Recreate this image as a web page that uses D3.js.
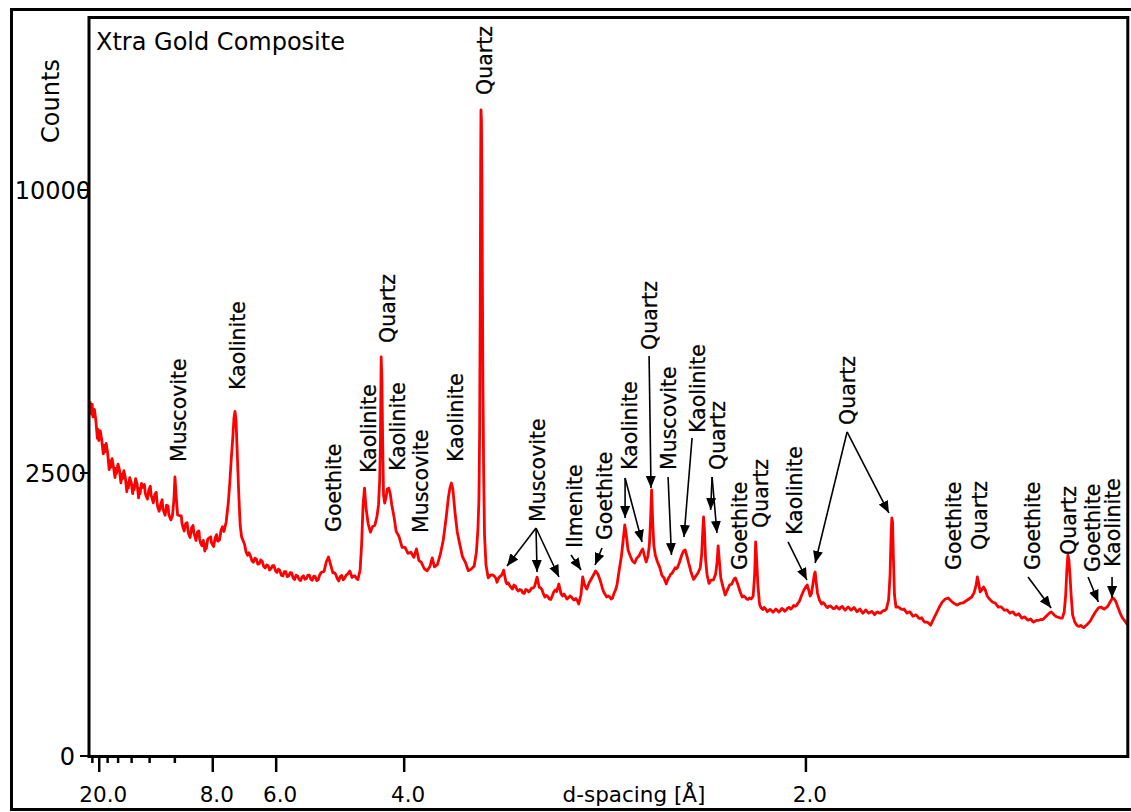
<!DOCTYPE html>
<html><head><meta charset="utf-8">
<script src="https://cdn.jsdelivr.net/npm/d3@7"></script>
<style>
body{margin:0;background:#fff;}
text{font-family:"DejaVu Sans", Verdana, sans-serif;fill:#000;}
</style></head><body>
<svg id="chart" width="1131" height="812"></svg>
<script>
// ---- data ----
const chartTitle = "Xtra Gold Composite";
const yAxisTitle = "Counts";
const xAxisTitle = "d-spacing [Å]";
const wavelength = 1.78897;            // Co K-alpha, Å
const twoThetaDomain = [4.5, 75];
const countsDomain = [0, 17000];
const yTickValues = [0, 2500, 10000];
const dMajorTicks = [20, 8, 6, 4, 2];
const dMinorTicks = [22, 18, 16, 14, 12, 10];

// [2theta (deg), counts] main readings
const pattern = [
[4.5,3927],[4.7,3588],[4.9,3509],[5.1,3107],[5.3,3112],[5.5,2886],[5.7,2863],[5.9,2599],[6.1,2598],[6.3,2490],[6.5,2555],[6.7,2394],[6.9,2414],[7.1,2238],[7.3,2338],[7.5,2213],[7.7,2306],[7.9,2146],[8.1,2252],[8.3,2119],[8.5,2214],[8.7,2092],[8.9,2134],[9.1,1933],[9.3,1977],[9.5,1875],[9.7,1964],[9.9,1792],
[10.1,1800],[10.2,2046],[10.27,2430],[10.35,2126],[10.45,1813],
[10.6,1802],[10.8,1646],[11.0,1687],[11.2,1539],[11.4,1622],[11.6,1524],[11.8,1567],[12.0,1421],[12.2,1450],[12.4,1343],[12.6,1486],[12.8,1402],[13.0,1484],[13.2,1441],[13.4,1587],[13.6,1573],
[13.75,1709],[13.9,2014],[14.0,2343],[14.1,2772],[14.2,3157],[14.28,3566],[14.35,3705],[14.42,3524],[14.5,2885],[14.6,2176],[14.7,1666],[14.8,1497],
[15.0,1399],[15.2,1258],[15.4,1248],[15.6,1171],[15.8,1211],[16.0,1155],[16.2,1183],[16.4,1103],[16.6,1131],[16.8,1095],[17.0,1132],[17.2,1052],[17.4,1073],[17.6,1013],[17.8,1062],[18.0,1011],[18.2,1047],[18.4,972],[18.6,1012],[18.8,960],[19.0,1013],[19.2,981],[19.4,1021],[19.6,964],[19.8,1004],[20.0,969],[20.2,1051],[20.4,1064],[20.55,1175],[20.7,1236],[20.85,1139],[21.0,1047],[21.2,1027],[21.4,957],[21.6,1017],[21.8,988],[22.0,1033],[22.15,1068],[22.3,995],[22.5,1012],[22.7,971],
[22.85,1080],[22.95,1390],[23.05,1968],[23.15,2240],[23.25,1920],[23.4,1680],[23.55,1564],[23.7,1643],[23.85,1660],[24.0,1798],[24.1,1968],[24.18,2378],[24.23,3117],[24.28,4969],[24.33,4413],[24.38,3117],[24.44,2126],[24.52,1998],[24.6,2078],[24.7,2225],[24.8,2240],[24.9,2143],[25.0,1968],[25.15,1788],[25.3,1574],[25.5,1500],[25.7,1360],[25.9,1358],[26.1,1282],[26.3,1296],[26.5,1231],[26.68,1338],[26.85,1191],[27.0,1173],[27.2,1097],[27.4,1070],[27.6,1125],[27.75,1224],[27.9,1117],[28.1,1143],[28.3,1271],[28.5,1456],[28.7,1783],[28.85,2094],[28.95,2240],[29.05,2326],[29.15,2225],[29.3,1842],[29.45,1566],[29.6,1416],[29.8,1241],[30.0,1171],[30.2,1072],[30.4,1090],[30.6,1127],[30.75,1299],[30.85,1594],[30.92,2046],[30.97,3317],[31.01,6491],[31.04,11088],[31.06,13026],[31.09,12627],[31.12,10719],[31.15,7679],[31.19,4413],[31.24,2553],[31.3,1525],[31.4,1139],
[31.55,991],[31.7,1020],[31.85,1024],[32.0,1004],[32.15,942],[32.3,999],[32.45,1018],[32.6,1078],[32.75,947],[32.9,938],[33.1,888],[33.3,912],[33.5,866],[33.7,865],[33.9,830],[34.1,865],[34.3,840],[34.5,880],[34.7,898],[34.87,999],[35.02,887],[35.2,865],[35.4,789],[35.6,794],[35.8,764],[36.0,839],[36.2,845],[36.35,923],[36.5,820],[36.7,819],[36.9,769],[37.1,799],[37.3,769],[37.5,775],[37.7,721],[37.85,809],[37.97,1000],[38.1,913],[38.25,871],[38.4,934],[38.55,978],[38.7,1023],[38.85,1068],[39.0,1034],[39.15,967],[39.3,881],[39.5,814],[39.7,799],[39.9,769],[40.1,829],[40.3,913],[40.45,1080],[40.6,1248],[40.72,1456],[40.83,1666],[40.93,1525],[41.05,1325],[41.2,1248],[41.35,1187],[41.5,1163],[41.65,1224],[41.8,1248],[41.95,1312],[42.05,1338],[42.15,1261],[42.28,1175],[42.4,1248],[42.5,1390],[42.58,1739],[42.65,2209],[42.72,1739],[42.8,1390],[42.9,1261],[43.05,1175],[43.2,1113],[43.35,1019],[43.5,988],[43.65,925],[43.8,988],[43.95,1034],[44.1,1058],[44.25,1107],[44.4,1105],[44.55,1175],[44.7,1261],[44.82,1312],[44.93,1325],[45.05,1248],[45.2,1139],[45.35,1045],[45.5,974],[45.65,1010],[45.8,1045],[45.95,1103],[46.05,1261],[46.13,1594],[46.18,1783],[46.24,1594],[46.32,1199],[46.42,1023],[46.55,930],[46.7,966],[46.85,968],[47.0,1034],[47.1,1175],[47.17,1377],[47.25,1199],[47.35,989],[47.5,892],[47.65,809],[47.8,860],[47.95,913],[48.1,924],[48.25,978],[48.35,989],[48.5,923],[48.65,850],[48.8,789],[49.0,789],[49.2,764],[49.4,770],[49.55,799],[49.65,1023],[49.72,1430],[49.79,1199],[49.87,913],[49.97,741],[50.1,683],[50.3,689],[50.5,650],[50.7,671],[50.9,645],[51.1,675],[51.3,646],[51.5,680],[51.7,654],[51.9,684],[52.1,674],[52.3,708],[52.5,707],[52.7,750],[52.85,809],[53.0,860],[53.12,892],[53.22,913],[53.32,860],[53.42,799],[53.52,829],[53.62,934],[53.7,1023],[53.76,1057],[53.83,945],[53.92,829],[54.05,760],[54.2,721],[54.4,722],[54.6,687],[54.8,703],[55.0,678],[55.2,699],[55.4,674],[55.6,699],[55.8,664],[56.0,694],[56.2,664],[56.4,689],[56.6,650],[56.8,675],[57.0,636],[57.2,666],[57.4,637],[57.6,653],[57.8,623],[58.0,648],[58.2,637],[58.4,661],[58.6,674],[58.75,760],[58.85,1023],[58.92,1525],[58.97,1768],[59.02,1710],[59.08,1199],[59.15,809],[59.25,693],[59.4,694],[59.6,674],[59.8,675],[60.0,637],[60.2,648],[60.4,611],[60.6,622],[60.8,593],[61.0,596],[61.2,559],[61.4,557],[61.6,534],[61.8,586],[62.0,638],[62.2,693],[62.4,741],[62.6,769],[62.8,779],[63.0,750],[63.2,726],[63.4,712],[63.6,726],[63.8,731],[64.0,750],[64.2,769],[64.4,789],[64.55,829],[64.7,913],[64.78,1000],[64.87,934],[64.97,840],[65.08,860],[65.2,892],[65.32,860],[65.45,799],[65.6,769],[65.8,741],[66.0,731],[66.2,692],[66.4,694],[66.6,664],[66.8,666],[67.0,637],[67.2,648],[67.4,619],[67.6,631],[67.8,593],[68.0,604],[68.2,576],[68.4,587],[68.6,559],[68.8,574],[69.0,577],[69.2,581],[69.4,603],[69.6,629],[69.8,647],[70.0,621],[70.2,603],[70.4,594],[70.55,594],[70.68,647],[70.78,809],[70.86,1080],[70.93,1261],[71.0,1199],[71.07,1023],[71.15,809],[71.25,621],[71.4,560],[71.6,526],[71.8,532],[72.0,514],[72.2,536],[72.4,560],[72.6,603],[72.8,647],[73.0,684],[73.2,693],[73.4,674],[73.6,693],[73.8,741],[74.0,779],[74.2,741],[74.4,665],[74.6,603],[74.8,569],[75.0,536]
];

// [2theta (deg), counts] extra readings of the noisy background between the main ones
const patternExtra = [
[4.6,3650],[4.65,3860],[4.8,3750],[5.0,3150],[5.05,3330],[5.2,3300],[5.4,2850],[5.45,3010],[5.6,3050],[5.8,2560],[5.85,2720],[6.0,2760],[6.2,2420],[6.25,2580],[6.4,2660],[6.6,2330],[6.65,2480],[6.8,2540],[7.0,2180],[7.05,2330],[7.2,2420],[7.4,2150],[7.45,2290],[7.6,2400],[7.8,2080],[7.85,2230],[8.0,2320],[8.2,2300],[8.25,2160],[8.4,2060],[8.6,2270],[8.65,2120],[8.8,2000],[9.0,2170],[9.05,2020],[9.2,1870],[9.4,2050],[9.45,1900],[9.6,1810],[9.8,1950],[9.85,1830],[10.0,1740],
[10.7,1800],[10.75,1690],[10.9,1580],[11.1,1700],[11.15,1590],[11.3,1490],[11.5,1660],[11.55,1560],[11.7,1450],[11.9,1580],[11.95,1470],[12.1,1380],[12.3,1310],[12.35,1400],[12.5,1470],[12.7,1500],[12.75,1420],[12.9,1370],[13.1,1530],[13.15,1450],[13.3,1460],[13.5,1640],
[15.1,1300],[15.3,1290],[15.5,1190],[15.7,1220],[15.9,1150],[16.1,1200],[16.3,1120],[16.5,1140],[16.7,1080],[16.9,1130],[17.1,1070],[17.3,1090],[17.5,1020],[17.7,1060],[17.9,1005],[18.1,1050],[18.3,990],[18.5,1020],[18.7,975],[18.9,1000],[19.1,975],[19.3,1020],[19.5,975],[19.7,1010],[19.9,960],[20.1,1020],
[21.1,1050],[21.3,980],[21.5,1005],[21.7,970],[21.9,1020],[22.4,1010],[22.6,985],
[32.07,985],[32.22,975],[32.52,1040],[32.82,925],[33.0,910],[33.2,870],[33.4,900],[33.6,850],[33.8,860],[34.0,825],[34.2,860],[34.4,855],[34.6,880],[35.1,885],[35.3,820],[35.5,805],[35.7,770],[35.9,800],[36.1,860],[36.6,800],[36.8,795],[37.0,780],[37.2,790],[37.4,760],[37.6,755],
[39.4,840],[39.6,790],[39.8,790],[40.0,780],[40.2,860],
[43.43,1000],[43.58,950],[43.72,960],[43.88,1010],[44.03,1040],[44.18,1085],[44.33,1095],[44.48,1140],
[48.9,800],[49.1,770],[49.3,780],[49.48,780],
[50.0,710],[50.2,670],[50.4,675],[50.6,660],[50.8,660],[51.0,660],[51.2,660],[51.4,660],[51.6,670],[51.8,665],[52.0,690],[52.2,685],[52.4,700],[52.6,730],
[54.3,735],[54.5,700],[54.7,700],[54.9,690],[55.1,680],[55.3,685],[55.5,690],[55.7,680],[55.9,680],[56.1,680],[56.3,675],[56.5,670],[56.7,660],[56.9,655],[57.1,650],[57.3,650],[57.5,645],[57.7,640],[57.9,640],[58.1,640],[58.3,650],[58.5,660],
[59.5,685],[59.7,670],[59.9,655],[60.1,645],[60.3,630],[60.5,615],[60.7,610],[60.9,590],[61.1,575],[61.3,560],[61.5,548],[61.7,560],
[65.7,755],[65.9,735],[66.1,710],[66.3,695],[66.5,680],[66.7,665],[66.9,650],[67.1,645],[67.3,630],[67.5,625],[67.7,610],[67.9,600],[68.1,590],[68.3,580],[68.5,570],[68.7,568],[68.9,575],[69.1,582],[69.3,590],[69.5,615],[69.7,640],[69.9,635],[70.1,610],[70.3,600],
[71.5,540],[71.7,525],[71.9,522],[72.1,525],[72.3,548],[72.5,580],[72.7,625],[72.9,665],[73.1,690],[73.3,680],[73.5,685],[73.7,715],[73.9,765],[74.1,765],[74.3,700],[74.5,630],[74.7,585],[74.9,550]
];

// phase labels: "at" = [2theta, counts] of the label's lower end; arrows from "from" to each "to"
const annotations = [
 {label:"Muscovite", at:[10.48, 2698]},
 {label:"Kaolinite", at:[14.55, 4181]},
 {label:"Goethite", at:[21.01, 1566]},
 {label:"Kaolinite", at:[23.45, 2500]},
 {label:"Quartz", at:[24.68, 5324]},
 {label:"Kaolinite", at:[25.42, 2535]},
 {label:"Muscovite", at:[26.92, 1552]},
 {label:"Kaolinite", at:[29.30, 2698]},
 {label:"Quartz", at:[31.33, 13638]},
 {label:"Muscovite", at:[34.87, 1709], from:[34.80, 1623], to:[[32.83, 1127], [34.87, 1057], [36.36, 1000]]},
 {label:"Ilmenite", at:[37.38, 1350], from:[37.18, 1261], to:[[37.86, 1080]]},
 {label:"Goethite", at:[39.42, 1456], from:[39.28, 1350], to:[[38.81, 1139]]},
 {label:"Kaolinite", at:[41.12, 2553], from:[40.85, 2412], to:[[40.85, 1768], [42.0, 1430]]},
 {label:"Quartz", at:[42.48, 5145], from:[42.48, 4994], to:[[42.61, 2242]]},
 {label:"Muscovite", at:[43.83, 2553], from:[43.77, 2430], to:[[44.0, 1261]]},
 {label:"Kaolinite", at:[45.74, 3257], from:[45.40, 3157], to:[[44.85, 1497]]},
 {label:"Quartz", at:[47.1, 2553], from:[46.76, 2430], to:[[46.66, 1889], [47.09, 1552]]},
 {label:"Goethite", at:[48.6, 1080]},
 {label:"Quartz", at:[50.08, 1623]},
 {label:"Kaolinite", at:[52.33, 1525], from:[51.92, 1430], to:[[53.2, 967]]},
 {label:"Quartz", at:[55.99, 3420], from:[55.93, 3277], to:[[53.76, 1163], [58.77, 1843]]},
 {label:"Goethite", at:[63.13, 1080]},
 {label:"Quartz", at:[64.9, 1325]},
 {label:"Goethite", at:[68.5, 1080], from:[68.22, 1000], to:[[69.79, 684]]},
 {label:"Quartz", at:[70.94, 1261]},
 {label:"Goethite", at:[72.6, 1057], from:[72.30, 1000], to:[[73.0, 740]]},
 {label:"Kaolinite", at:[73.93, 1115], from:[73.93, 1000], to:[[73.93, 779]]}
];

// ---- drawing ----
const svg = d3.select("#chart");
const x = d3.scaleLinear().domain(twoThetaDomain).range([90, 1127.8]);
const y = d3.scaleSqrt().domain(countsDomain).range([756, 18]);
const dToTwoTheta = d => 2 * Math.asin(wavelength / (2 * d)) * 180 / Math.PI;

// outer frame
svg.append("rect").attr("x", 11.5).attr("y", 9.5).attr("width", 1130).attr("height", 800)
  .attr("fill", "none").attr("stroke", "#000").attr("stroke-width", 3);

// arrow marker
svg.append("defs").append("marker").attr("id", "ah")
  .attr("markerUnits", "userSpaceOnUse").attr("viewBox", "0 0 12 10")
  .attr("refX", 12).attr("refY", 5).attr("markerWidth", 12).attr("markerHeight", 10)
  .attr("orient", "auto")
  .append("path").attr("d", "M0,0 L12,5 L0,10 Z").attr("fill", "#000");

// pattern line
const allPoints = pattern.concat(patternExtra).sort((a, b) => a[0] - b[0]);
const line = d3.line().x(d => x(d[0])).y(d => y(d[1]));
svg.append("path").datum(allPoints).attr("d", line)
  .attr("fill", "none").attr("stroke", "#ff0000").attr("stroke-width", 2.8)
  .attr("stroke-linejoin", "round");

// plot frame
const [x0, x1] = x.range();
const [yb, yt] = y.range();
svg.append("rect").attr("x", x0 - 1).attr("y", yt - 0.5).attr("width", x1 - x0 + 1).attr("height", yb - yt + 1)
  .attr("fill", "none").attr("stroke", "#000").attr("stroke-width", 3);

// y axis ticks
const yLabelShift = {0: -15, 2500: -4, 10000: 1};
const yAxis = svg.append("g");
yTickValues.forEach(v => {
  yAxis.append("line").attr("x1", x0 - 10).attr("x2", x0 - 1).attr("y1", y(v)).attr("y2", y(v))
    .attr("stroke", "#000").attr("stroke-width", 2);
  yAxis.append("text").attr("x", x0 + (yLabelShift[v] || 0)).attr("y", y(v)).attr("dy", "0.36em")
    .attr("text-anchor", "end").attr("font-size", 24).text(String(v));
});

// x axis (d-spacing ticks placed on the 2theta scale)
const xAxis = svg.append("g");
dMinorTicks.forEach(d => {
  const px = x(dToTwoTheta(d));
  xAxis.append("line").attr("x1", px).attr("x2", px).attr("y1", yb + 1).attr("y2", yb + 7)
    .attr("stroke", "#000").attr("stroke-width", 2.5);
});
dMajorTicks.forEach(d => {
  const px = x(dToTwoTheta(d));
  xAxis.append("line").attr("x1", px).attr("x2", px).attr("y1", yb + 1).attr("y2", yb + 16)
    .attr("stroke", "#000").attr("stroke-width", 2.5);
  xAxis.append("text").attr("x", px + 4).attr("y", yb + 46).attr("text-anchor", "middle")
    .attr("font-size", 21.5).text(d.toFixed(1));
});
svg.append("text").attr("x", 634).attr("y", yb + 46).attr("text-anchor", "middle")
  .attr("font-size", 21.5).text(xAxisTitle);

// titles
svg.append("text").attr("x", 96).attr("y", 50).attr("font-size", 24).text(chartTitle);
svg.append("text").attr("transform", "translate(59,101) rotate(-90)").attr("text-anchor", "middle")
  .attr("font-size", 24).text(yAxisTitle);

// annotations
const ann = svg.append("g");
annotations.forEach(a => {
  const px = x(a.at[0]), py = y(a.at[1]);
  ann.append("text").attr("transform", `translate(${px + 7.5},${py}) rotate(-90)`)
    .attr("text-anchor", "start").attr("font-size", 20.5)
    .attr("stroke", "#000").attr("stroke-width", 0.25).text(a.label);
  if (a.to) {
    const fx = x(a.from[0]), fy = y(a.from[1]);
    a.to.forEach(t => {
      ann.append("line").attr("x1", fx).attr("y1", fy).attr("x2", x(t[0])).attr("y2", y(t[1]))
        .attr("stroke", "#000").attr("stroke-width", 1.6).attr("marker-end", "url(#ah)");
    });
  }
});
</script>
</body></html>
